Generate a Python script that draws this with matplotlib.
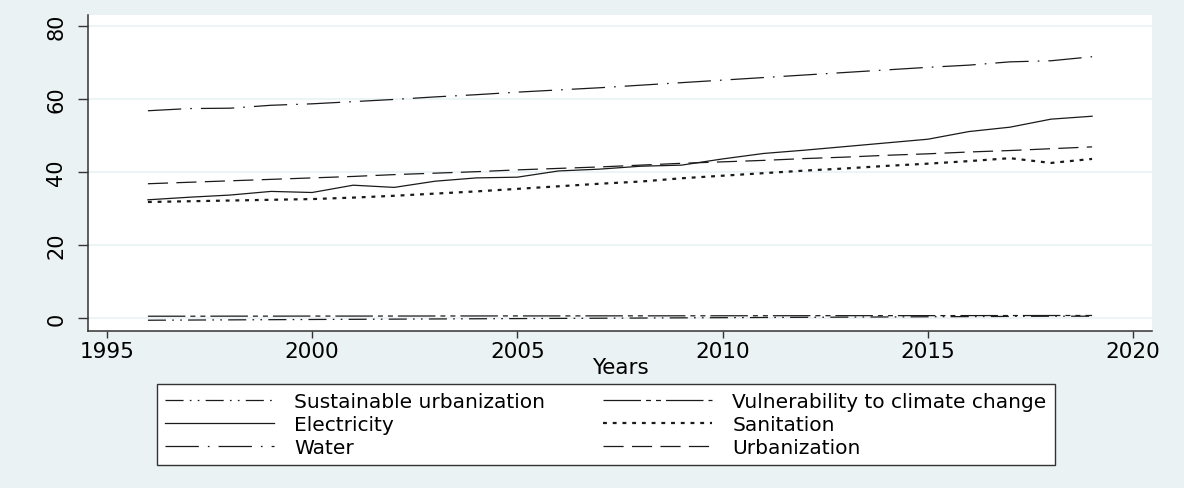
import numpy as np
import matplotlib
matplotlib.use("Agg")
from matplotlib import pyplot as plt

plt.rcParams['font.family'] = ['DejaVu Sans']
plt.rcParams['lines.scale_dashes'] = False

years = np.arange(1996, 2020)

water = [56.8, 57.4, 57.5, 58.3, 58.7, 59.3, 59.9, 60.6, 61.2, 61.9, 62.5, 63.1,
         63.8, 64.5, 65.2, 65.9, 66.6, 67.3, 68.0, 68.7, 69.3, 70.2, 70.5, 71.6]
electricity = [32.4, 33.1, 33.7, 34.7, 34.4, 36.4, 35.8, 37.5, 38.4, 38.6, 40.3, 40.8,
               41.6, 41.9, 43.6, 45.1, 46.0, 47.0, 48.0, 49.0, 51.1, 52.3, 54.5, 55.3]
urbanization = [36.8, 37.2, 37.6, 38.0, 38.4, 38.8, 39.3, 39.7, 40.1, 40.6, 41.0, 41.4,
                41.9, 42.4, 42.8, 43.2, 43.7, 44.1, 44.6, 45.0, 45.5, 45.9, 46.4, 46.9]
sanitation = [31.8, 32.0, 32.2, 32.4, 32.6, 33.0, 33.5, 34.1, 34.7, 35.4, 36.1, 36.8,
              37.4, 38.3, 39.0, 39.7, 40.4, 41.0, 41.7, 42.3, 43.0, 43.8, 42.5, 43.6]
sust_urban = [-0.6, -0.55, -0.5, -0.45, -0.4, -0.35, -0.3, -0.25, -0.2, -0.15, -0.1, -0.05,
              0.0, 0.05, 0.1, 0.15, 0.2, 0.25, 0.3, 0.35, 0.4, 0.45, 0.5, 0.5]
vulnerability = [0.5, 0.5, 0.52, 0.52, 0.54, 0.54, 0.55, 0.56, 0.57, 0.58, 0.58, 0.6,
                 0.6, 0.61, 0.62, 0.63, 0.64, 0.65, 0.65, 0.66, 0.67, 0.68, 0.69, 0.7]

bg = '#eaf2f3'
ink = '#1a1a1a'

fig = plt.figure(figsize=(11.84, 4.89), dpi=100, facecolor=bg)
ax = fig.add_axes([0.0743, 0.321, 0.8987, 0.646])
ax.set_facecolor('white')

l_su, = ax.plot(years, sust_urban, color=ink, lw=0.9,
                dashes=(13, 4.5, 1.2, 4.5, 1.2, 4.5), label='Sustainable urbanization')
l_el, = ax.plot(years, electricity, color=ink, lw=0.9, label='Electricity')
l_wa, = ax.plot(years, water, color=ink, lw=0.9,
                dashes=(24, 6.5, 1.2, 6.5), label='Water')
l_vu, = ax.plot(years, vulnerability, color=ink, lw=0.9,
                dashes=(27, 3.6, 3.6, 3.6, 3.6, 3.6), label='Vulnerability to climate change')
l_sa, = ax.plot(years, sanitation, color=ink, lw=1.6,
                dashes=(2.8, 4.2), label='Sanitation')
l_ur, = ax.plot(years, urbanization, color=ink, lw=0.9,
                dashes=(14.5, 6), label='Urbanization')

ax.set_xlim(1994.54, 2020.46)
ax.set_ylim(-3.56, 83.0)
ax.set_xticks([1995, 2000, 2005, 2010, 2015, 2020])
ax.set_yticks([0, 20, 40, 60, 80])
ax.grid(axis='y', color=bg, lw=1.2)
ax.set_axisbelow(True)
for s in ['top', 'right']:
    ax.spines[s].set_visible(False)
for s in ['left', 'bottom']:
    ax.spines[s].set_color('#333333')
    ax.spines[s].set_linewidth(1.1)
ax.tick_params(axis='x', length=5, width=1, color='#333333', labelsize=15.5, pad=2)
ax.tick_params(axis='y', length=7.5, width=1, color='#333333', labelsize=15, pad=8)
for t in ax.get_yticklabels():
    t.set_rotation(90)
    t.set_va('center')
ax.set_xlabel('Years', fontsize=15.5, labelpad=-3)

handles = [l_su, l_el, l_wa, l_vu, l_sa, l_ur]
leg = fig.legend(handles=handles, loc='upper left', ncol=2,
                 bbox_to_anchor=(157/1184, 1-385/489),
                 fontsize=14.5, handlelength=5.4, handletextpad=1.0, columnspacing=2.9,
                 labelspacing=0.2, borderaxespad=0, fancybox=False, frameon=True,
                 borderpad=0.4, framealpha=1)
leg.get_frame().set_edgecolor('#333333')
leg.get_frame().set_facecolor('white')
leg.get_frame().set_linewidth(1.0)

fig.savefig('out.png', dpi=100, facecolor=bg)
